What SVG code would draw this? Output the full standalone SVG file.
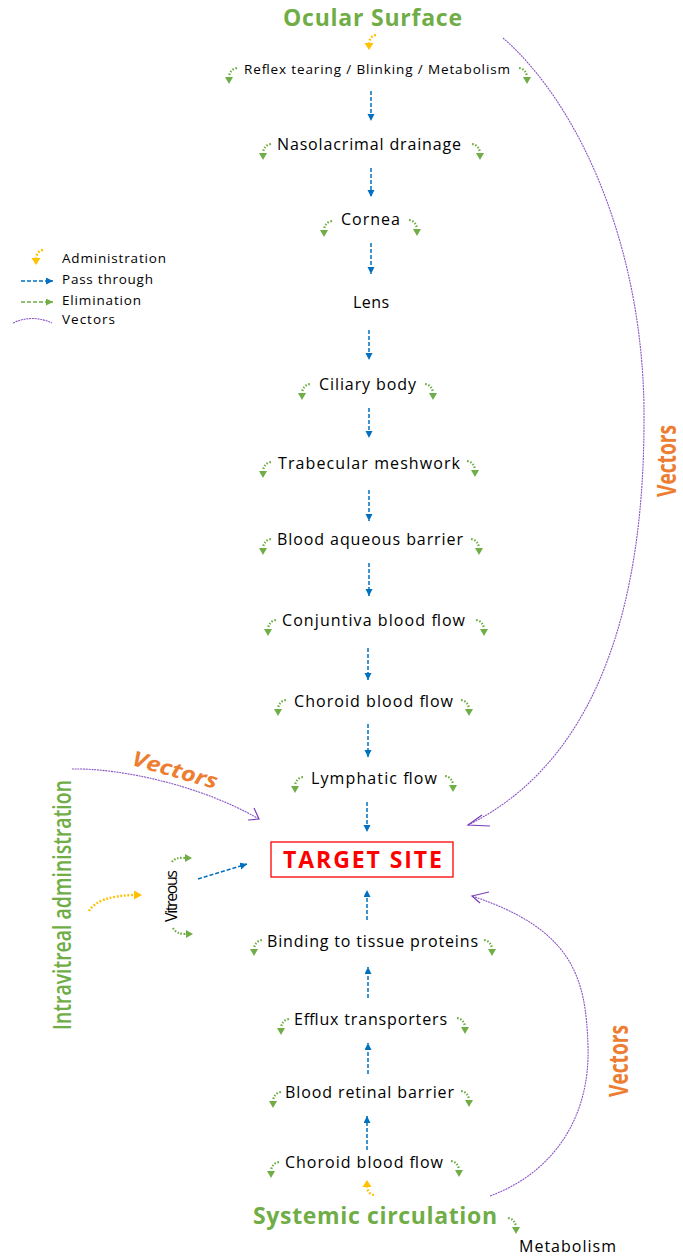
<svg xmlns="http://www.w3.org/2000/svg" width="683" height="1257" viewBox="0 0 683 1257">
<style>
.lbl{font-family:"Open Sans","DejaVu Sans",sans-serif;font-size:16px;fill:#000;text-anchor:middle}
.sm{font-size:13.5px}
.leg{font-family:"Open Sans","DejaVu Sans",sans-serif;font-size:13.5px;fill:#000}
.ttl{font-family:"Open Sans","DejaVu Sans",sans-serif;font-size:23px;font-weight:bold;fill:#70AD47;text-anchor:middle}
.vec{font-family:"Open Sans","DejaVu Sans",sans-serif;font-weight:bold;fill:#ED7D31;text-anchor:middle}
.blue{stroke:#0070C0;stroke-width:1.5;stroke-dasharray:4 2;fill:none;marker-end:url(#ab)}
.gdot{stroke:#70AD47;stroke-width:2.2;stroke-dasharray:1.6 1.6;fill:none}
.ydot{stroke:#FFC000;stroke-width:2.4;stroke-dasharray:1.8 1.8;fill:none}
.vecl{stroke:#8A55C4;stroke-width:1.1;stroke-dasharray:2 0.8;fill:none}
.vhead{stroke:#7A40B8;stroke-width:1.2;fill:none}
</style>
<defs>
<marker id="ab" markerWidth="8" markerHeight="8" refX="7" refY="3.5" orient="auto" markerUnits="userSpaceOnUse"><path d="M0,0 L7,3.5 L0,7 Z" fill="#0070C0"/></marker>
<marker id="ag" markerWidth="8" markerHeight="8" refX="7" refY="3.5" orient="auto" markerUnits="userSpaceOnUse"><path d="M0,0 L7,3.5 L0,7 Z" fill="#70AD47"/></marker>
<g id="eL"><path class="gdot" d="M8,-16 Q1,-15 0,-7"/><path d="M-4,-7 L4,-7 L0,0 Z" fill="#70AD47"/></g>
<g id="eR"><path class="gdot" d="M-8,-16 Q-1,-15 0,-7"/><path d="M-4,-7 L4,-7 L0,0 Z" fill="#70AD47"/></g>
<g id="yD"><path class="ydot" d="M7,-15 Q1,-14 0,-7"/><path d="M-4.5,-7 L4.5,-7 L0,0 Z" fill="#FFC000"/></g>
</defs>
<rect width="683" height="1257" fill="#fff"/>

<g id="legend">
<use href="#yD" transform="translate(36,265)"/>
<text class="leg" x="62" y="263" textLength="104">Administration</text>
<line x1="21" y1="281" x2="53" y2="281" class="blue"/>
<text class="leg" x="62" y="284" textLength="91">Pass through</text>
<line x1="21" y1="302" x2="53" y2="302" stroke="#70AD47" stroke-width="1.5" stroke-dasharray="4 2" marker-end="url(#ag)"/>
<text class="leg" x="62" y="305" textLength="79">Elimination</text>
<path class="vecl" d="M13,323 Q32,314 52,323"/>
<text class="leg" x="62" y="324" textLength="53">Vectors</text>
</g>

<g id="connectors">
<line class="blue" x1="371" y1="91" x2="371" y2="121"/>
<line class="blue" x1="371" y1="168" x2="371" y2="197"/>
<line class="blue" x1="371" y1="243" x2="371" y2="274"/>
<line class="blue" x1="369" y1="330" x2="369" y2="360"/>
<line class="blue" x1="369" y1="408" x2="369" y2="438"/>
<line class="blue" x1="369" y1="490" x2="369" y2="521"/>
<line class="blue" x1="369" y1="563" x2="369" y2="596"/>
<line class="blue" x1="368" y1="648" x2="368" y2="680"/>
<line class="blue" x1="368" y1="724" x2="368" y2="757"/>
<line class="blue" x1="367" y1="802" x2="367" y2="832"/>
<line class="blue" x1="367" y1="920" x2="367" y2="890"/>
<line class="blue" x1="368" y1="998" x2="368" y2="967"/>
<line class="blue" x1="368" y1="1074" x2="368" y2="1043"/>
<line class="blue" x1="367" y1="1150" x2="367" y2="1116"/>
<line class="blue" x1="198" y1="879" x2="247" y2="864"/>

<use href="#yD" transform="translate(369,50)"/>
<use href="#yD" transform="translate(367,1180) scale(1,-1)"/>
<path class="ydot" d="M89,911 Q98,896 134,895"/>
<path d="M134,890.5 L142,895 L134,899.5 Z" fill="#FFC000"/>

<use href="#eL" transform="translate(229,84)"/><use href="#eR" transform="translate(527,84)"/>
<use href="#eL" transform="translate(263,160)"/><use href="#eR" transform="translate(480,160)"/>
<use href="#eL" transform="translate(324,237)"/><use href="#eR" transform="translate(417,236)"/>
<use href="#eL" transform="translate(302,400)"/><use href="#eR" transform="translate(433,400)"/>
<use href="#eL" transform="translate(263,478)"/><use href="#eR" transform="translate(475,477)"/>
<use href="#eL" transform="translate(263,555)"/><use href="#eR" transform="translate(479,555)"/>
<use href="#eL" transform="translate(268,636)"/><use href="#eR" transform="translate(484,636)"/>
<use href="#eL" transform="translate(278,716)"/><use href="#eR" transform="translate(469,716)"/>
<use href="#eL" transform="translate(295,793)"/><use href="#eR" transform="translate(453,792)"/>
<use href="#eL" transform="translate(254,956)"/><use href="#eR" transform="translate(492,956)"/>
<use href="#eL" transform="translate(281,1035)"/><use href="#eR" transform="translate(465,1034)"/>
<use href="#eL" transform="translate(273,1108)"/><use href="#eR" transform="translate(469,1107)"/>
<use href="#eL" transform="translate(271,1178)"/><use href="#eR" transform="translate(459,1177)"/>
<use href="#eR" transform="translate(516,1234)"/>

<path class="gdot" d="M172,862 Q175,857 185,858"/>
<path d="M185,854 L192,858 L185,862 Z" fill="#70AD47"/>
<path class="gdot" d="M173,928 Q176,934 186,934"/>
<path d="M186,930 L193,934 L186,938 Z" fill="#70AD47"/>

<path class="vecl" d="M503,38 C580,105 645,250 644,420 C644,600 600,760 468,825"/>
<path class="vhead" d="M482,815 L468,825 L490,826"/>
<path class="vecl" d="M72,769 C120,768 200,785 259,819"/>
<path class="vhead" d="M254,808 L259,819 L248,820"/>
<path class="vecl" d="M490,1196 C560,1170 590,1110 588,1047 C586,980 575,930 472,896"/>
<path class="vhead" d="M489,892 L472,896 L480,903"/>
</g>

<g id="n-ocular"><text class="ttl" x="372.5" y="26" textLength="179">Ocular Surface</text></g>
<g id="n-reflex"><text class="lbl sm" x="377" y="74" textLength="266">Reflex tearing / Blinking / Metabolism</text></g>
<g id="n-naso"><text class="lbl" x="369" y="150" textLength="184">Nasolacrimal drainage</text></g>
<g id="n-cornea"><text class="lbl" x="370.5" y="225" textLength="59">Cornea</text></g>
<g id="n-lens"><text class="lbl" x="371" y="308" textLength="36">Lens</text></g>
<g id="n-ciliary"><text class="lbl" x="367.5" y="390" textLength="97">Ciliary body</text></g>
<g id="n-trab"><text class="lbl" x="369" y="469" textLength="182">Trabecular meshwork</text></g>
<g id="n-bab"><text class="lbl" x="370" y="545" textLength="186">Blood aqueous barrier</text></g>
<g id="n-conj"><text class="lbl" x="373.5" y="626" textLength="183">Conjuntiva blood flow</text></g>
<g id="n-choroid1"><text class="lbl" x="373.5" y="707" textLength="159">Choroid blood flow</text></g>
<g id="n-lymph"><text class="lbl" x="374" y="784" textLength="126">Lymphatic flow</text></g>
<g id="n-target">
<rect x="271" y="842" width="182" height="35" fill="#fff" stroke="#FF0000" stroke-width="1.3"/>
<text x="362.5" y="868" text-anchor="middle" textLength="159" font-family="'Open Sans','DejaVu Sans',sans-serif" font-size="23" font-weight="bold" fill="#FF0000">TARGET SITE</text>
</g>
<g id="n-binding"><text class="lbl" x="372.5" y="947" textLength="211">Binding to tissue proteins</text></g>
<g id="n-efflux"><text class="lbl" x="370.5" y="1025" textLength="153">Efflux transporters</text></g>
<g id="n-brb"><text class="lbl" x="369.5" y="1098" textLength="169">Blood retinal barrier</text></g>
<g id="n-choroid2"><text class="lbl" x="364" y="1168" textLength="158">Choroid blood flow</text></g>
<g id="n-systemic"><text class="ttl" x="375" y="1224" textLength="244">Systemic circulation</text></g>
<g id="n-metab"><text class="lbl" x="567.5" y="1252" textLength="97">Metabolism</text></g>
<g id="n-vitreous"><text class="lbl" transform="translate(177,896) rotate(-90)" x="0" y="0" font-size="15" textLength="52">Vitreous</text></g>
<g id="n-intravitreal"><text transform="translate(71,905) rotate(-90)" x="0" y="0" text-anchor="middle" textLength="250" lengthAdjust="spacingAndGlyphs" font-family="'Open Sans','DejaVu Sans',sans-serif" font-size="26" font-weight="600" fill="#70AD47">Intravitreal administration</text></g>
<g id="l-vectors-right"><text class="vec" transform="translate(676,461) rotate(-90)" x="0" y="0" font-size="26" textLength="72" lengthAdjust="spacingAndGlyphs">Vectors</text></g>
<g id="l-vectors-bottom"><text class="vec" transform="translate(628,1061) rotate(-90)" x="0" y="0" font-size="27" textLength="72" lengthAdjust="spacingAndGlyphs">Vectors</text></g>
<g id="l-vectors-left"><text class="vec" transform="translate(173,777) rotate(16)" x="0" y="0" font-size="21" font-style="italic" textLength="88" lengthAdjust="spacingAndGlyphs">Vectors</text></g>
</svg>
